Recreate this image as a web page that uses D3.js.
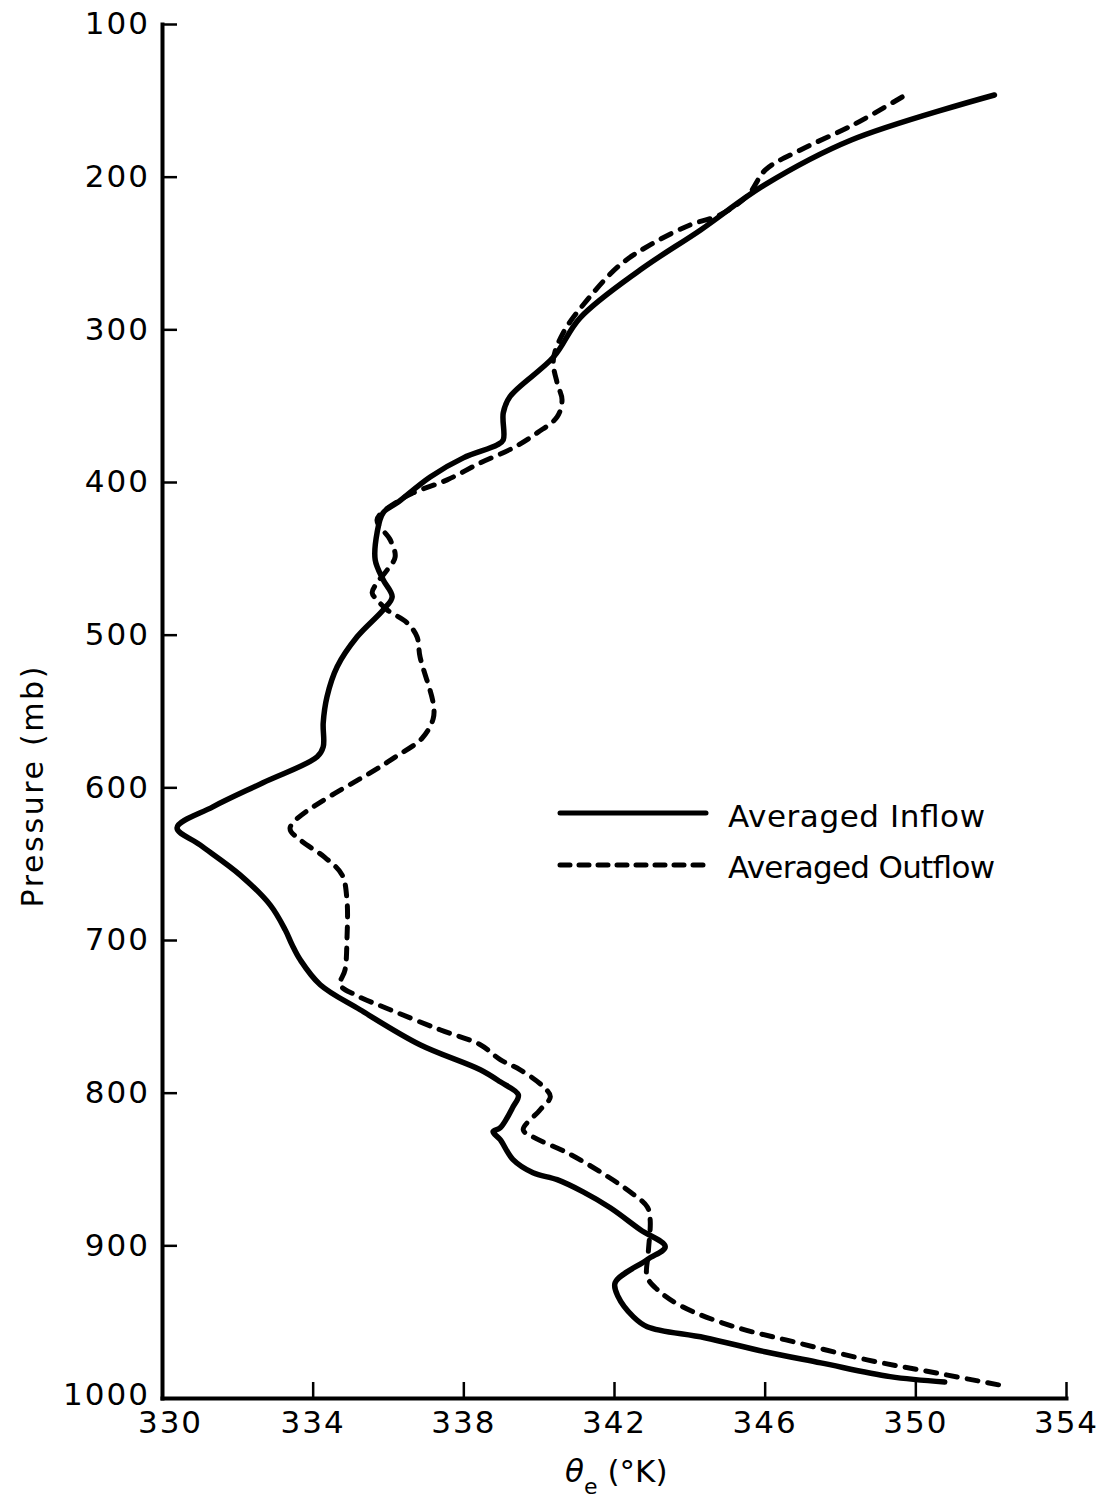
<!DOCTYPE html>
<html>
<head>
<meta charset="utf-8">
<script src="https://cdn.jsdelivr.net/npm/d3@7"></script>
<style>
  html, body { margin: 0; padding: 0; background: #fff; }
  svg { display: block; }
  text { font-family: "DejaVu Sans", sans-serif; fill: #000; }
</style>
</head>
<body>
<svg id="chart" width="1105" height="1501"></svg>
<script>
// Equivalent potential temperature profiles, theta_e (K) against pressure (mb)
const pressureTicks = [100, 200, 300, 400, 500, 600, 700, 800, 900, 1000];
const thetaTicks = [330, 334, 338, 342, 346, 350, 354];

const inflowTheta = [
  352.1, 348.3, 346.0, 344.3, 342.7, 341.1, 340.4, 339.24, 339.06, 339.06,
  338.9, 338.0, 337.12, 336.24, 335.87, 335.71, 335.66, 335.87, 336.11, 335.87,
  335.18, 334.65, 334.38, 334.28, 334.28, 334.12, 332.68, 331.35, 330.4, 331.01,
  332.07, 332.87, 333.27, 333.45, 333.67, 334.2, 335.26, 336.85, 338.45, 338.98,
  339.46, 339.32, 338.98, 338.79, 338.98, 339.32, 339.85, 340.49, 341.18, 341.9,
  342.7, 343.36, 342.88, 342.03, 342.11, 342.51, 342.88, 344.41, 346.01, 347.49,
  349.33, 350.78
];
const inflowPressure = [
  146.5, 176, 205.4, 234.9, 261, 292.5, 318, 344, 354.7, 372.4,
  375.7, 384.2, 396.7, 413.7, 420.2, 433.3, 451, 464, 475.2, 483.8,
  501.4, 521, 540.7, 557.8, 573.5, 580, 597, 612.8, 626.5, 637.7,
  657.3, 677, 693.3, 703, 713, 729.3, 745.7, 768.6, 785, 792.9,
  801.4, 809.2, 823, 825.5, 830.8, 843.9, 852.5, 857, 865, 875.4,
  889.8, 900.9, 909.4, 924.5, 933.6, 946.7, 953.3, 960.5, 969.7, 977,
  986, 989.5
];

const outflowTheta = [
  349.65, 348.35, 346.95, 346.02, 345.56, 344.82, 344.02, 342.96, 342.16, 341.29,
  340.65, 340.39, 340.49, 340.62, 340.49, 339.96, 339.32, 338.45, 337.57, 336.67,
  336.32, 335.71, 336.06, 336.19, 335.98, 335.71, 335.58, 335.71, 335.98, 336.51,
  336.77, 336.85, 337.2, 337.2, 336.9, 336.2, 335.79, 333.4, 333.67, 334.33,
  334.78, 334.91, 334.91, 334.86, 334.73, 335.13, 336.06, 337.38, 338.45, 338.98,
  339.51, 340.12, 340.31, 340.04, 339.59, 339.85, 340.76, 341.63, 342.35, 342.88,
  342.96, 342.91, 342.88, 343.15, 343.8, 345.15, 346.87, 348.72, 350.56, 352.34
];
const outflowPressure = [
  147.8, 166.1, 182.5, 195.6, 212, 225, 231.6, 244.7, 257.8, 280.7,
  302.4, 320, 335.1, 346.2, 357.4, 367.8, 377.7, 387.5, 398.6, 407.1,
  411.7, 424.8, 437.9, 449, 457.6, 466, 472.6, 477.2, 483.8, 492.3,
  501.4, 514.5, 545, 555, 568, 580, 586.6, 626.5, 634.4, 646,
  657.3, 673.7, 700, 719.5, 729.3, 735.9, 745.7, 758.8, 768.6, 778.4,
  785, 796, 802.7, 811.2, 824.3, 829, 839.4, 851.8, 863.6, 874.7,
  883.2, 904.9, 920.6, 929, 940, 953, 963.8, 975, 983.6, 992
];

const seriesNames = ["Averaged Inflow", "Averaged Outflow"];

const svg = d3.select("#chart");
svg.append("rect").attr("width", 1105).attr("height", 1501).attr("fill", "#fff");

const x = d3.scaleLinear().domain([330, 354]).range([162, 1066]);
const y = d3.scaleLinear().domain([100, 1000]).range([24, 1398]);

// Pressure axis (left), ticks pointing into the plot
const yAxis = svg.append("g")
  .attr("transform", `translate(${x(330)},0)`)
  .call(d3.axisLeft(y).tickValues(pressureTicks).tickFormat(d3.format("d"))
    .tickSize(-15).tickSizeOuter(0).tickPadding(12));

// Theta_e axis (bottom), ticks pointing up
const xAxis = svg.append("g")
  .attr("transform", `translate(0,${y(1000)})`)
  .call(d3.axisBottom(x).tickValues(thetaTicks).tickFormat(d3.format("d"))
    .tickSize(-16).tickSizeOuter(0).tickPadding(13));

[yAxis, xAxis].forEach(g => {
  g.select(".domain").attr("stroke", "#000").attr("stroke-width", 4).attr("stroke-linecap", "square");
  g.selectAll(".tick line").attr("stroke", "#000").attr("stroke-width", 2.5);
  g.selectAll(".tick text")
    .attr("font-family", "DejaVu Sans, sans-serif")
    .attr("font-size", 31)
    .attr("letter-spacing", 2)
    .attr("fill", "#000");
});
// first theta label sits a little to the right of the corner
xAxis.selectAll(".tick text").filter(d => d === 330).attr("dx", 8);
yAxis.selectAll(".tick text").filter(d => d === 1000).attr("dy", "0.2em");

// Axis titles
svg.append("text")
  .attr("transform", `translate(43,787) rotate(-90)`)
  .attr("text-anchor", "middle")
  .attr("font-size", 30)
  .attr("textLength", 241)
  .attr("lengthAdjust", "spacing")
  .text("Pressure (mb)");

const xt = svg.append("text")
  .attr("x", 565)
  .attr("y", 1482)
  .attr("font-size", 31);
xt.append("tspan").attr("font-style", "italic").text("θ");
xt.append("tspan").attr("font-size", 22).attr("dy", 12).text("e");
xt.append("tspan").attr("dy", -12).attr("dx", 10).text("(°K)");

// Profiles
const line = d3.line()
  .x(d => x(d[0]))
  .y(d => y(d[1]))
  .curve(d3.curveCatmullRom.alpha(0.5));

const inflow = inflowTheta.map((t, i) => [t, inflowPressure[i]]);
const outflow = outflowTheta.map((t, i) => [t, outflowPressure[i]]);

svg.append("path")
  .datum(inflow)
  .attr("d", line)
  .attr("fill", "none")
  .attr("stroke", "#000")
  .attr("stroke-width", 5.5)
  .attr("stroke-linecap", "round")
  .attr("stroke-linejoin", "round");

svg.append("path")
  .datum(outflow)
  .attr("d", line)
  .attr("fill", "none")
  .attr("stroke", "#000")
  .attr("stroke-width", 5)
  .attr("stroke-dasharray", "11,10")
  .attr("stroke-linecap", "round")
  .attr("stroke-linejoin", "round");

// Legend
const legend = svg.append("g");
const legendRows = [
  { name: seriesNames[0], y: 813, dash: null, textLen: 257, base: 827 },
  { name: seriesNames[1], y: 865, dash: "10,9", textLen: 267, base: 878 }
];
legendRows.forEach(r => {
  legend.append("line")
    .attr("x1", 560).attr("x2", 706)
    .attr("y1", r.y).attr("y2", r.y)
    .attr("stroke", "#000")
    .attr("stroke-width", 5)
    .attr("stroke-linecap", "round")
    .attr("stroke-dasharray", r.dash);
  legend.append("text")
    .attr("x", 728)
    .attr("y", r.base)
    .attr("font-size", 31)
    .attr("textLength", r.textLen)
    .attr("lengthAdjust", "spacing")
    .text(r.name);
});
</script>
</body>
</html>
